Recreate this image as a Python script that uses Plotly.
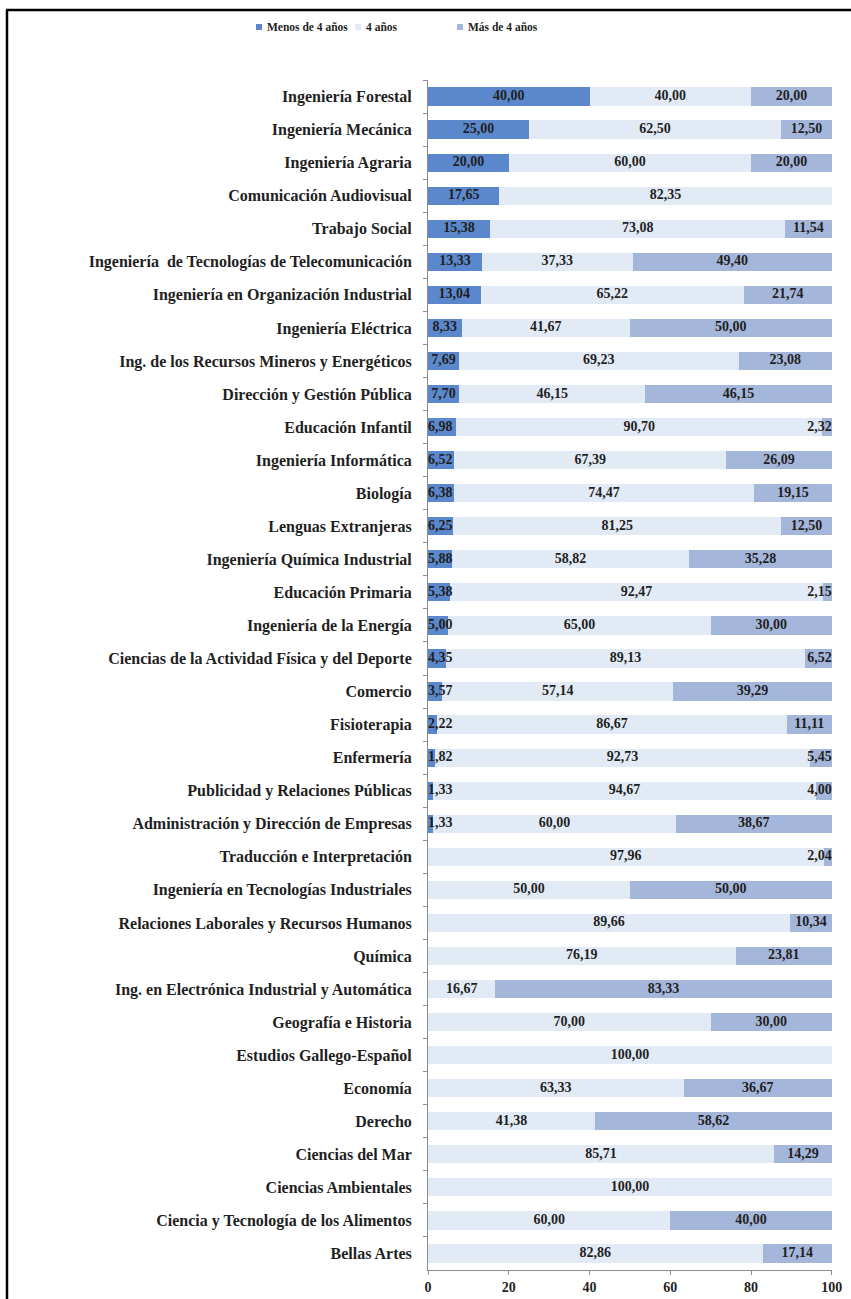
import plotly.graph_objects as go

categories = [
    "Ingeniería Forestal",
    "Ingeniería Mecánica",
    "Ingeniería Agraria",
    "Comunicación Audiovisual",
    "Trabajo Social",
    "Ingeniería  de Tecnologías de Telecomunicación",
    "Ingeniería en Organización Industrial",
    "Ingeniería Eléctrica",
    "Ing. de los Recursos Mineros y Energéticos",
    "Dirección y Gestión Pública",
    "Educación Infantil",
    "Ingeniería Informática",
    "Biología",
    "Lenguas Extranjeras",
    "Ingeniería Química Industrial",
    "Educación Primaria",
    "Ingeniería de la Energía",
    "Ciencias de la Actividad Física y del Deporte",
    "Comercio",
    "Fisioterapia",
    "Enfermería",
    "Publicidad y Relaciones Públicas",
    "Administración y Dirección de Empresas",
    "Traducción e Interpretación",
    "Ingeniería en Tecnologías Industriales",
    "Relaciones Laborales y Recursos Humanos",
    "Química",
    "Ing. en Electrónica Industrial y Automática",
    "Geografía e Historia",
    "Estudios Gallego-Español",
    "Economía",
    "Derecho",
    "Ciencias del Mar",
    "Ciencias Ambientales",
    "Ciencia y Tecnología de los Alimentos",
    "Bellas Artes",
]

menos_4 = [40.00, 25.00, 20.00, 17.65, 15.38, 13.33, 13.04, 8.33, 7.69, 7.70,
           6.98, 6.52, 6.38, 6.25, 5.88, 5.38, 5.00, 4.35, 3.57, 2.22,
           1.82, 1.33, 1.33, 0, 0, 0, 0, 0, 0, 0,
           0, 0, 0, 0, 0, 0]
cuatro = [40.00, 62.50, 60.00, 82.35, 73.08, 37.33, 65.22, 41.67, 69.23, 46.15,
          90.70, 67.39, 74.47, 81.25, 58.82, 92.47, 65.00, 89.13, 57.14, 86.67,
          92.73, 94.67, 60.00, 97.96, 50.00, 89.66, 76.19, 16.67, 70.00, 100.00,
          63.33, 41.38, 85.71, 100.00, 60.00, 82.86]
mas_4 = [20.00, 12.50, 20.00, 0, 11.54, 49.40, 21.74, 50.00, 23.08, 46.15,
         2.32, 26.09, 19.15, 12.50, 35.28, 2.15, 30.00, 6.52, 39.29, 11.11,
         5.45, 4.00, 38.67, 2.04, 50.00, 10.34, 23.81, 83.33, 30.00, 0,
         36.67, 58.62, 14.29, 0, 40.00, 17.14]

series_names = ["Menos de 4 años", "4 años", "Más de 4 años"]
series_values = [menos_4, cuatro, mas_4]
series_colors = ["#5B88CC", "#E2EAF6", "#A5B6DB"]

x_ticks = [0, 20, 40, 60, 80, 100]

FONT = "Liberation Serif"
TXT = "#1f1f1f"


def fmt(v):
    return f"{v:.2f}".replace(".", ",")


fig = go.Figure()
for name, vals, col in zip(series_names, series_values, series_colors):
    fig.add_trace(go.Bar(
        y=categories,
        x=vals,
        name=name,
        orientation="h",
        marker=dict(color=col, line=dict(width=0)),
        hoverinfo="skip",
        showlegend=False,
    ))

# Data labels: centred in each segment, kept inside the plotting area
lab_x, lab_y, lab_t, lab_pos = [], [], [], []
x_min, x_max = 0, 100
edge = 3.8
for i, cat in enumerate(categories):
    start = 0.0
    for vals in series_values:
        v = vals[i]
        if v > 0:
            c = start + v / 2
            if c < x_min + edge:
                lab_x.append(x_min)
                lab_pos.append("middle right")
            elif c > x_max - edge:
                lab_x.append(x_max)
                lab_pos.append("middle left")
            else:
                lab_x.append(c)
                lab_pos.append("middle center")
            lab_y.append(cat)
            lab_t.append(fmt(v))
        start += v

fig.add_trace(go.Scatter(
    x=lab_x, y=lab_y, text=lab_t, mode="text",
    textposition=lab_pos,
    textfont=dict(family=FONT, size=14, color=TXT, weight="bold"),
    showlegend=False, hoverinfo="skip", cliponaxis=False,
))

W, H = 851, 1299
ml, mr, mt, mb = 428, 19, 80, 29
pw = W - ml - mr
ph = H - mt - mb


def px_to_paper_x(px):
    return (px - ml) / pw


def px_to_paper_y(py):
    return 1 - (py - mt) / ph


# Legend (Excel style: small square swatch followed by the series name)
legend_x = [256, 355, 457]
legend_y = 27
sw = 6
shapes = [
    dict(type="line", xref="paper", yref="paper",
         x0=px_to_paper_x(7), x1=px_to_paper_x(7),
         y0=px_to_paper_y(10), y1=px_to_paper_y(1310),
         line=dict(color="black", width=2.5)),
    dict(type="line", xref="paper", yref="paper",
         x0=px_to_paper_x(6), x1=px_to_paper_x(860),
         y0=px_to_paper_y(10), y1=px_to_paper_y(10),
         line=dict(color="black", width=2.5)),
]
annotations = []
for lx, name, col in zip(legend_x, series_names, series_colors):
    shapes.append(dict(
        type="rect", xref="paper", yref="paper",
        x0=px_to_paper_x(lx), x1=px_to_paper_x(lx + sw),
        y0=px_to_paper_y(legend_y + sw / 2), y1=px_to_paper_y(legend_y - sw / 2),
        fillcolor=col, line=dict(width=0),
    ))
    annotations.append(dict(
        xref="paper", yref="paper",
        x=px_to_paper_x(lx + sw + 3), y=px_to_paper_y(legend_y),
        xanchor="left", yanchor="middle", showarrow=False,
        text=name,
        font=dict(family=FONT, size=11.5, color=TXT, weight="bold"),
    ))

fig.update_layout(
    width=W,
    height=H,
    barmode="stack",
    bargap=0.45,
    margin=dict(l=ml, r=mr, t=mt, b=mb, pad=0, autoexpand=False),
    paper_bgcolor="white",
    plot_bgcolor="white",
    font=dict(family=FONT, size=13, color=TXT),
    showlegend=False,
    xaxis=dict(
        range=[0, 100.06],
        tickvals=x_ticks,
        ticktext=[str(t) for t in x_ticks],
        showgrid=False,
        zeroline=False,
        showline=True,
        linecolor="#8c8c8c",
        linewidth=1,
        ticks="outside",
        ticklen=4,
        tickcolor="#8c8c8c",
        tickfont=dict(family=FONT, size=14, color=TXT, weight="bold"),
        automargin=False,
        fixedrange=True,
    ),
    yaxis=dict(
        categoryorder="array",
        categoryarray=categories,
        range=[len(categories) - 0.5, -0.5],
        autorange=False,
        showgrid=False,
        zeroline=False,
        showline=True,
        linecolor="#8c8c8c",
        linewidth=1,
        ticks="outside",
        tickson="boundaries",
        ticklen=4,
        tickcolor="#8c8c8c",
        ticklabelstandoff=12,
        tickfont=dict(family=FONT, size=16, color=TXT, weight="bold"),
        automargin=False,
        fixedrange=True,
    ),
    shapes=shapes,
    annotations=annotations,
)

fig.write_html(
    "out.html",
    config={"displayModeBar": False},
    post_script="document.body.style.margin='0px';document.body.style.overflow='hidden';",
)
